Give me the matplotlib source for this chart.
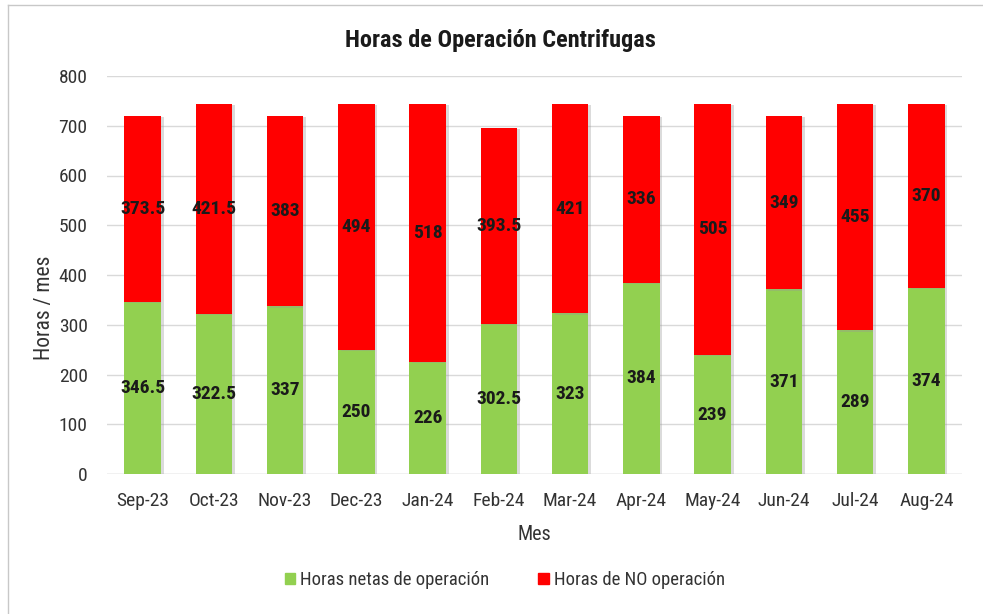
import matplotlib
matplotlib.use("Agg")
import matplotlib.pyplot as plt
import matplotlib.patheffects as pe
from matplotlib.lines import Line2D

months = ["Sep-23", "Oct-23", "Nov-23", "Dec-23", "Jan-24", "Feb-24",
          "Mar-24", "Apr-24", "May-24", "Jun-24", "Jul-24", "Aug-24"]
horas_netas = [346.5, 322.5, 337, 250, 226, 302.5, 323, 384, 239, 371, 289, 374]
horas_no = [373.5, 421.5, 383, 494, 518, 393.5, 421, 336, 505, 349, 455, 370]
yticks = [0, 100, 200, 300, 400, 500, 600, 700, 800]

plt.rcParams['font.family'] = ["Roboto Condensed", "DejaVu Sans"]

fig = plt.figure(figsize=(9.83, 6.14), dpi=100)
ax = fig.add_axes([107/983, 1-474/614, (962-107)/983, (474-76)/614])

green = "#92d050"
red = "#ff0000"
x = list(range(len(months)))
shadow = [pe.SimplePatchShadow(offset=(2, -1), shadow_rgbFace="#999999", alpha=0.35), pe.Normal()]
ax.bar(x, horas_netas, width=0.51, color=green, zorder=3, path_effects=shadow)
ax.bar(x, horas_no, width=0.51, bottom=horas_netas, color=red, zorder=3, path_effects=shadow)

for i in x:
    ax.text(i, horas_netas[i]/2, f"{horas_netas[i]:g}", ha="center", va="center",
            fontsize=14, fontweight="bold", color="#1a1a1a", zorder=4)
    ax.text(i, horas_netas[i] + horas_no[i]/2, f"{horas_no[i]:g}", ha="center", va="center",
            fontsize=14, fontweight="bold", color="#1a1a1a", zorder=4)

ax.set_xlim(-0.5, len(months) - 0.5)
ax.set_ylim(0, 800)
ax.set_yticks(yticks)
ax.set_xticks(x)
ax.set_xticklabels(months)
ax.tick_params(axis="both", length=0, labelsize=14, colors="#333333")
ax.tick_params(axis="x", pad=13)
ax.tick_params(axis="y", pad=14)
ax.grid(axis="y", color="#d9d9d9", linewidth=1, zorder=0)
for s in ax.spines.values():
    s.set_visible(False)
ax.axhline(0, color="#d9d9d9", linewidth=1, zorder=1)

ax.set_ylabel("Horas / mes", fontsize=15.5, color="#333333", va="center")
ax.yaxis.set_label_coords((44-107)/855, (474-308)/398)
ax.set_xlabel("Mes", fontsize=14.5, color="#333333", labelpad=11)
fig.text(0.509, 1-40/614, "Horas de Operación Centrifugas", ha="center", va="center",
         fontsize=17.5, fontweight="bold", color="#1a1a1a")

handles = [plt.Rectangle((0, 0), 1, 1, color=green), plt.Rectangle((0, 0), 1, 1, color=red)]
fig.legend(handles, ["Horas netas de operación", "Horas de NO operación"],
           loc="center", bbox_to_anchor=(505/983, 1-580/614), ncol=2, frameon=False,
           fontsize=13.5, handlelength=0.55, handleheight=0.55, handletextpad=0.3,
           columnspacing=2.6, labelcolor="#333333")

# chart frame
fig.add_artist(Line2D([8/983, 8/983], [0, 1-5/614], transform=fig.transFigure, color="#c8c8c8", lw=1))
fig.add_artist(Line2D([8/983, 1], [1-5/614, 1-5/614], transform=fig.transFigure, color="#c8c8c8", lw=1))

fig.savefig("out.png", dpi=100)
